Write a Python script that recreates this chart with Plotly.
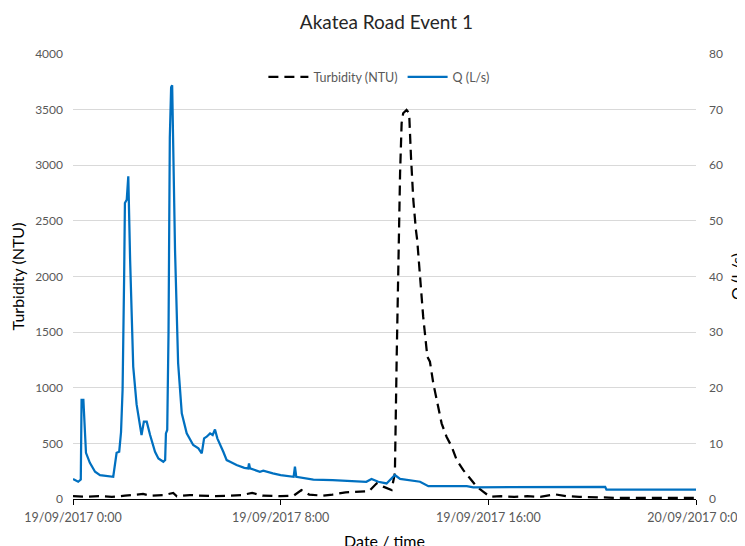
import pandas as pd
import plotly.graph_objects as go

start = pd.Timestamp("2017-09-19 00:00")

# Q (L/s): hours since start, value
q_hours = [0, 0.2, 0.3, 0.33, 0.4, 0.5, 0.65, 0.85, 1.04, 1.3, 1.55, 1.68, 1.78, 1.85, 1.91,
           1.97, 2.0, 2.07, 2.13, 2.2, 2.32, 2.45, 2.52, 2.64, 2.73, 2.84, 2.97, 3.16, 3.29,
           3.48, 3.55, 3.58, 3.63, 3.68, 3.73, 3.78, 3.82, 3.86, 3.93, 4.05, 4.19, 4.38, 4.63,
           4.83, 4.96, 5.05, 5.15, 5.28, 5.38, 5.47, 5.56, 5.79, 5.92, 6.05, 6.3, 6.6, 6.75,
           6.78, 6.82, 7.2, 7.33, 7.7, 8.0, 8.5, 8.55, 8.6, 9.26, 10.0, 10.54, 11.3, 11.5,
           11.76, 12.08, 12.4, 12.6, 12.85, 13.1, 13.37, 13.69, 15.17, 15.42, 20.5, 20.55, 24]
q_values = [3.6, 3.1, 3.5, 17.8, 17.8, 8.3, 6.5, 4.9, 4.3, 4.1, 4.0, 8.3, 8.5, 12, 19.6,
            40, 53.2, 53.8, 58, 43, 23.8, 17, 14.8, 11.5, 13.9, 13.9, 11.5, 8.5, 7.3,
            6.7, 7.0, 11.8, 12.4, 30, 65, 74, 74.4, 65, 44.8, 24.4, 15.4, 11.8, 9.7,
            9.1, 8.2, 10.9, 11.2, 11.8, 11.5, 12.5, 10.9, 8.5, 7.0, 6.7, 6.1, 5.6, 5.5,
            6.4, 5.5, 4.9, 5.1, 4.6, 4.3, 4.0, 5.8, 4.0, 3.5, 3.4, 3.3, 3.1, 3.6,
            3.1, 2.8, 4.3, 3.6, 3.4, 3.3, 3.1, 2.3, 2.3, 2.1, 2.2, 1.7, 1.7]

# Turbidity (NTU): hours since start, value
turb_hours = [0, 0.5, 1, 1.5, 2.0, 2.4, 2.7, 3.0, 3.5, 3.86, 4.0, 4.5, 5.0, 5.5, 6.0, 6.5,
              6.9, 7.3, 8.0, 8.5, 8.8, 9.1, 9.6, 10.0, 10.5, 11.05, 11.4, 11.7, 11.95, 12.27,
              12.4, 12.47, 12.53, 12.6, 12.66, 12.72, 12.85, 12.95, 13.02, 13.11, 13.21,
              13.26, 13.37, 13.49, 13.65, 13.75, 13.88, 14.03, 14.2, 14.39, 14.5, 14.59,
              14.78, 15.03, 15.29, 15.55, 15.8, 16.06, 16.5, 17.0, 17.5, 18.0, 18.57, 19.0,
              19.5, 20.0, 21, 22, 23, 24]
turb_values = [25, 20, 25, 20, 30, 40, 45, 30, 35, 55, 25, 35, 30, 25, 30, 35,
               55, 30, 25, 30, 80, 40, 30, 40, 60, 66, 70, 141, 111, 81,
               231, 1279, 2178, 2928, 3378, 3468, 3497, 3468, 3077, 2688, 2418,
               2328, 1998, 1639, 1279, 1234, 1040, 860, 680, 560, 510, 470,
               351, 261, 186, 111, 66, 21, 25, 20, 25, 20, 42, 25,
               20, 15, 10, 10, 10, 10]

tick_hours = [0, 8, 16, 24]

q_time = [start + pd.Timedelta(hours=h) for h in q_hours]
turb_time = [start + pd.Timedelta(hours=h) for h in turb_hours]
tick_time = [start + pd.Timedelta(hours=h) for h in tick_hours]
tick_text = [t.strftime("%d/%m/%Y ") + f"{t.hour}:{t.minute:02d}" for t in tick_time]

FONT = "Lato"
GRAY = "#595959"

fig = go.Figure()
fig.add_trace(go.Scatter(
    x=turb_time, y=turb_values, name="Turbidity (NTU)", mode="lines",
    line=dict(color="black", width=2.25, dash="10px,6px"), yaxis="y"))
fig.add_trace(go.Scatter(
    x=q_time, y=q_values, name="Q (L/s)", mode="lines",
    line=dict(color="#0070C0", width=2.25), yaxis="y2"))

fig.update_layout(
    width=745, height=546,
    margin=dict(l=65, r=57, t=46, b=55, autoexpand=False),
    paper_bgcolor="white", plot_bgcolor="white",
    font=dict(family=FONT, color=GRAY, size=12),
    title=dict(text="Akatea Road Event 1", x=0.508, xanchor="center", y=0.974, yanchor="middle",
               font=dict(family=FONT, size=19, color="#262626")),
    showlegend=True,
    legend=dict(orientation="h", x=0.491, xanchor="center", y=0.948, yanchor="middle",
                font=dict(family=FONT, size=12.5, color=GRAY), bgcolor="rgba(0,0,0,0)",
                itemwidth=40, tracegroupgap=0),
    xaxis=dict(
        range=[tick_time[0], tick_time[-1]], tickmode="array", tickvals=tick_time,
        ticktext=tick_text, showgrid=False, showline=True, linecolor="black", linewidth=1,
        ticks="outside", ticklen=5, tickcolor="black", zeroline=False, automargin=False,
        ticklabelstandoff=2,
        tickfont=dict(family=FONT, size=12.5, color=GRAY),
        title=dict(text="Date / time", font=dict(family=FONT, size=16, color="black"), standoff=11),
    ),
    yaxis=dict(
        range=[0, 4000], dtick=500, showgrid=True, gridcolor="#d9d9d9", gridwidth=1,
        showline=False, zeroline=False, ticks="", automargin=False, ticklabelstandoff=9,
        tickfont=dict(family=FONT, size=12, color=GRAY),
        title=dict(text="Turbidity (NTU)", font=dict(family=FONT, size=16, color="black"), standoff=10),
    ),
    yaxis2=dict(
        range=[0, 80], dtick=10, overlaying="y", side="right", showgrid=False,
        showline=False, zeroline=False, ticks="", automargin=False, ticklabelstandoff=12,
        tickfont=dict(family=FONT, size=12, color=GRAY),
        title=dict(text="Q (L/s)", font=dict(family=FONT, size=16, color="black"), standoff=9),
    ),
)

fig.write_html("out.html")
